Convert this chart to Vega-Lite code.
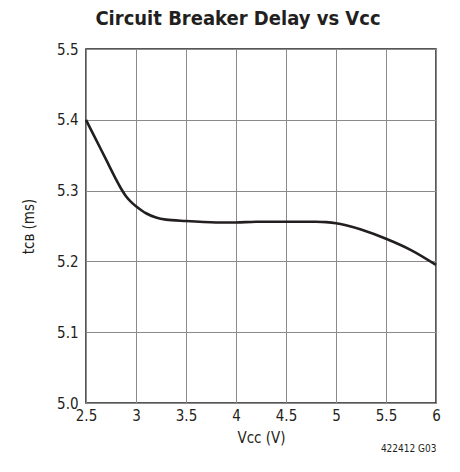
{
  "$schema": "https://vega.github.io/schema/vega-lite/v6.json",
  "autosize": "none",
  "width": 350,
  "height": 354,
  "padding": {"left": 86, "top": 49, "right": 24, "bottom": 69},
  "background": "white",
  "config": {
    "font": "DejaVu Sans Condensed",
    "view": {"stroke": "#231f20", "strokeWidth": 1.5},
    "axis": {
      "grid": true,
      "gridColor": "#8a8a8a",
      "gridWidth": 1,
      "gridOpacity": 1,
      "domain": false,
      "ticks": false,
      "labelFlush": false,
      "labelFont": "DejaVu Sans Condensed",
      "labelFontSize": 15,
      "labelColor": "#231f20",
      "titleFont": "DejaVu Sans Condensed",
      "titleFontSize": 15,
      "titleFontWeight": "normal",
      "titleColor": "#231f20"
    }
  },
  "title": {
    "text": "Circuit Breaker Delay vs Vᴄᴄ",
    "font": "DejaVu Sans Condensed",
    "fontSize": 20,
    "fontWeight": "bold",
    "color": "#231f20",
    "anchor": "middle",
    "dx": -23,
    "offset": 13
  },
  "data": {
    "values": [
      {"v": 2.5, "t": 5.400},
      {"v": 2.6, "t": 5.372},
      {"v": 2.7, "t": 5.344},
      {"v": 2.8, "t": 5.316},
      {"v": 2.85, "t": 5.303},
      {"v": 2.9, "t": 5.292},
      {"v": 2.95, "t": 5.284},
      {"v": 3.0, "t": 5.278},
      {"v": 3.1, "t": 5.268},
      {"v": 3.2, "t": 5.262},
      {"v": 3.3, "t": 5.259},
      {"v": 3.5, "t": 5.257},
      {"v": 3.8, "t": 5.255},
      {"v": 4.0, "t": 5.255},
      {"v": 4.2, "t": 5.256},
      {"v": 4.5, "t": 5.256},
      {"v": 4.8, "t": 5.256},
      {"v": 4.9, "t": 5.2555},
      {"v": 5.0, "t": 5.254},
      {"v": 5.1, "t": 5.251},
      {"v": 5.25, "t": 5.245},
      {"v": 5.5, "t": 5.232},
      {"v": 5.75, "t": 5.216},
      {"v": 6.0, "t": 5.195}
    ]
  },
  "layer": [
    {
      "mark": {"type": "line", "interpolate": "catmull-rom", "color": "#231f20", "strokeWidth": 2.6},
      "encoding": {
        "x": {
          "field": "v", "type": "quantitative",
          "scale": {"domain": [2.5, 6], "nice": false, "zero": false},
          "axis": {"values": [2.5, 3, 3.5, 4, 4.5, 5, 5.5, 6], "format": "~g", "labelPadding": 5, "labelOverlap": false, "title": "Vᴄᴄ (V)", "titlePadding": 7}
        },
        "y": {
          "field": "t", "type": "quantitative",
          "scale": {"domain": [5.0, 5.5], "nice": false, "zero": false},
          "axis": {"values": [5.0, 5.1, 5.2, 5.3, 5.4, 5.5], "format": ".1f", "labelPadding": 8, "labelOverlap": false, "title": "tᴄʙ (ms)", "titlePadding": 20}
        }
      }
    },
    {
      "mark": {"type": "line", "opacity": 0},
      "encoding": {
        "x": {
          "field": "v", "type": "quantitative",
          "scale": {"domain": [2.5, 6], "nice": false, "zero": false},
          "axis": {"orient": "bottom", "offset": 40, "grid": false, "labels": false, "title": "422412 G03", "titleAnchor": "end", "titleFontSize": 10, "titlePadding": 0}
        },
        "y": {"field": "t", "type": "quantitative"}
      }
    }
  ],
  "resolve": {"axis": {"x": "independent"}}
}
